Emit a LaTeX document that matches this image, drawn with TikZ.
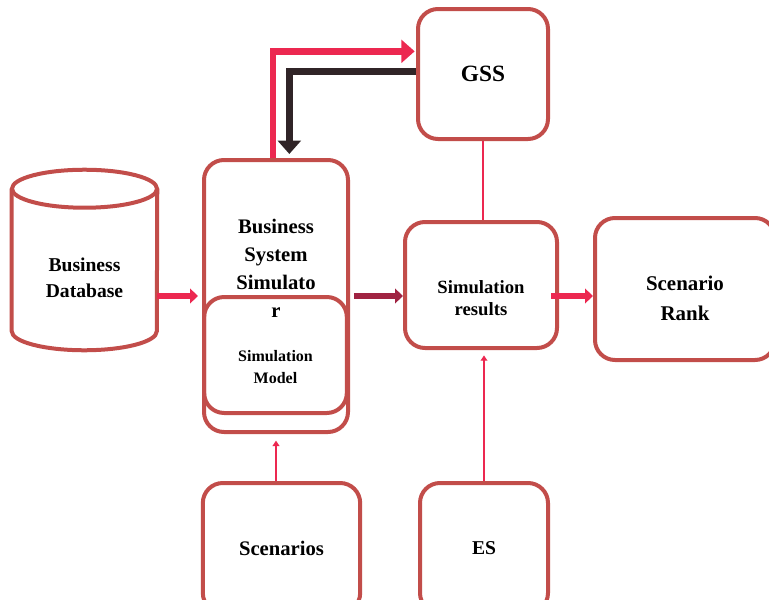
\documentclass[tikz,border=0pt]{standalone}
\usepackage{fontspec}
\setmainfont{Liberation Serif}
\usetikzlibrary{arrows.meta,calc,positioning}
\definecolor{boxred}{HTML}{C24D4A}
\definecolor{linkpink}{HTML}{EC2850}
\definecolor{linkdark}{HTML}{302427}
\definecolor{linkwine}{HTML}{A02342}

\begin{document}
\begin{tikzpicture}[
    x=0.75pt,y=-0.75pt,
    every node/.style={font=\bfseries,align=center,inner sep=0pt},
    box/.style={
        rounded corners=15pt,
        draw=boxred,
        line width=3pt
    },
    rim/.style={draw=boxred,line width=3pt},
    big/.style={font=\bfseries\fontsize{15.5pt}{21pt}\selectfont},
    mid/.style={font=\bfseries\fontsize{14pt}{17pt}\selectfont},
    small/.style={font=\bfseries\fontsize{12pt}{16.5pt}\selectfont},
    thinarrow/.style={-{Triangle[length=4pt,width=5pt]},linkpink,line width=1.6pt},
    flow/.style={-{Triangle[length=6pt,width=11pt]},line width=4.5pt},
    loop/.style={-{Triangle[length=10pt,width=17pt]},line width=5pt}
]
\useasboundingbox (0,0) rectangle (769,600);

% Data source (cylinder)
\node[font=\bfseries\fontsize{14.7pt}{19.5pt}\selectfont,
      minimum width=108.75pt, minimum height=135pt] (db) at (84.5,260) {};
\node[font=\bfseries\fontsize{14.7pt}{19.5pt}\selectfont] (dbtext) at (84.5,278) {Business\\Database};
\draw[rim] ([yshift=-14.25pt]db.north) ellipse [x radius=54.4pt, y radius=14.25pt];
\draw[rim] ([yshift=-14.25pt]db.north west) -- ([yshift=14.25pt]db.south west)
    arc [start angle=180, end angle=360, x radius=54.4pt, y radius=14.25pt]
    -- ([yshift=-14.25pt]db.north east);

% Simulator with its model
\node[box, minimum width=108pt, minimum height=204pt] (bss) at (276,296) {};
\node[box, minimum width=107pt, minimum height=87pt] (model) at (275.5,355) {};
\node[big] (bsstext) at (276,268) {Business\\System\\Simulato\\r};
\node[small] (modeltext) at (275.5,367) {Simulation\\Model};

% Other blocks
\node[box, font=\bfseries\fontsize{17.5pt}{21pt}\selectfont,
      minimum width=97.5pt, minimum height=97.5pt] (gss) at (483,74) {GSS};
\node[box, minimum width=114pt, minimum height=94.5pt] (res) at (481,285) {};
\node[mid] (restext) at (481,298) {Simulation\\results};
\node[box, minimum width=135pt, minimum height=106.5pt] (rank) at (685,289) {};
\node[font=\bfseries\fontsize{15.7pt}{22.5pt}\selectfont] (ranktext) at (685,298) {Scenario\\Rank};
\node[box, big, minimum width=118pt, minimum height=97.5pt] (scen) at (281.5,548) {Scenarios};
\node[box, font=\bfseries\fontsize{14.7pt}{19pt}\selectfont,
      minimum width=96pt, minimum height=97.5pt] (es) at (484,548) {ES};

% Relations
\draw[flow, linkpink, line width=4pt] (db.east |- bss.west) -- ([xshift=-3pt]bss.west);
\draw[flow, linkwine] ([xshift=3pt]bss.east) -- (bss.east -| res.west);
\draw[flow, linkpink] ([xshift=-6pt]res.east |- bss.east) -- (rank.west |- bss.east);
\draw[thinarrow] (scen.north -| bss.south) -- ([yshift=-5pt]bss.south);
\draw[thinarrow] (es.north) -- ([yshift=-4pt]es.north |- res.south);
\draw[linkpink, line width=1.6pt] (gss.south) -- (gss.south |- res.north);

% Exchange with GSS
\draw[loop, linkpink] ([xshift=-2.25pt]bss.north) |- ([xshift=-1pt,yshift=17pt]gss.west);
\draw[loop, linkdark] ([yshift=2pt]gss.west) -| ([xshift=10pt,yshift=3pt]bss.north);

\end{tikzpicture}
\end{document}
